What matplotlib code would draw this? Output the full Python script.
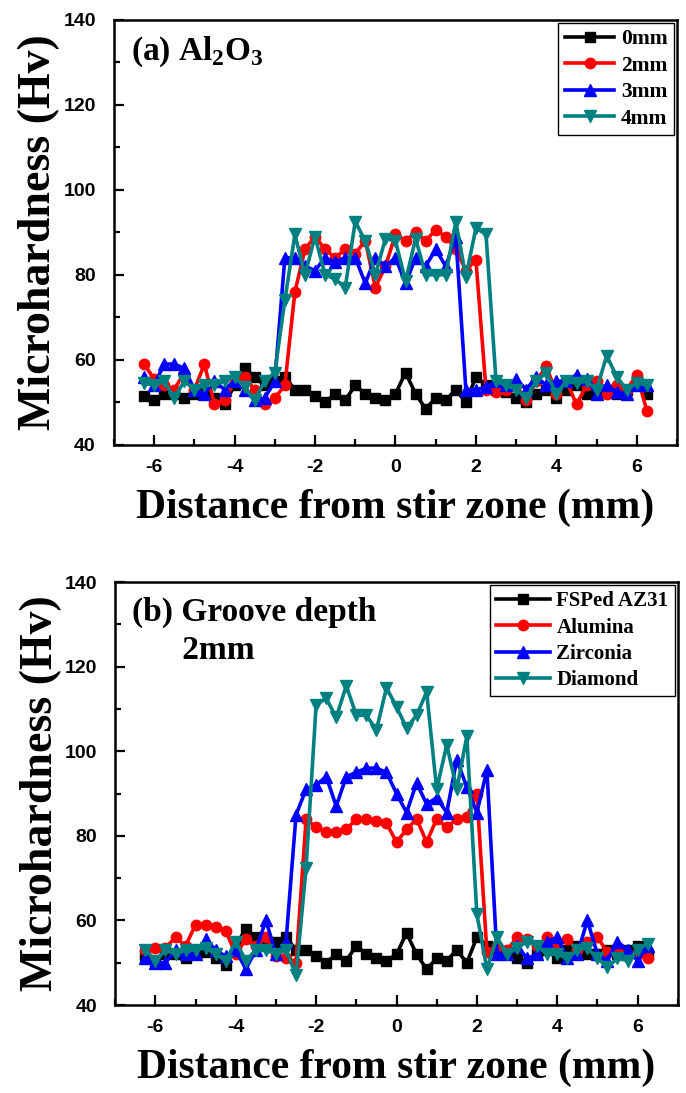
import numpy as np
import matplotlib
matplotlib.use("Agg")
import matplotlib.pyplot as plt
from matplotlib.ticker import MultipleLocator

plt.rcParams['font.family'] = ['Liberation Serif', 'DejaVu Serif']
plt.rcParams['mathtext.fontset'] = 'custom'
plt.rcParams['mathtext.rm'] = 'Liberation Serif:bold'
plt.rcParams['mathtext.bf'] = 'Liberation Serif:bold'
plt.rcParams['axes.unicode_minus'] = False

# distance from stir zone centre (mm), 0.25 mm step
distance = np.arange(-6.25, 6.26, 0.25)

# FSPed AZ31 baseline (same in both panels)
hv_base = [51.5, 50.5, 52, 52, 51, 52, 52.5, 51, 49.5, 54, 58, 56, 54, 55, 56, 53, 53,
           51.5, 50, 52, 50.5, 54, 52, 51, 50.5, 52, 57, 52, 48.5, 51, 50.5, 53, 50,
           56, 54, 53, 52.5, 51, 50, 52, 53, 51, 53, 54, 52, 52, 53, 52, 53, 54, 52]

# (a) Al2O3, groove depth
hv_2mm = [59, 55.5, 54, 53, 57, 53, 59, 49.5, 50.5, 55, 56, 53, 49.5, 51, 54, 76, 86,
          89, 86, 84, 86, 85, 88, 77, 82, 89.5, 88, 90, 88, 90.5, 89, 86, 81,
          83.5, 53, 52.5, 53, 54, 50.5, 55, 58.5, 52, 55, 49.5, 54, 55, 52, 54, 53, 56.5, 48]
hv_3mm = [56, 54, 59, 59, 58, 53, 52, 55, 53, 55, 53, 50.5, 51, 55, 84, 84, 82,
          81, 84, 83, 84, 84, 78, 84, 82, 84, 78, 84, 82, 86, 82, 89, 53,
          53, 53.5, 55, 54, 55.5, 53, 56, 54, 55, 55, 56.5, 55.5, 52, 54, 52.5, 52, 54, 54]
hv_4mm = [54.5, 54, 55, 51, 55, 53, 54, 54, 55, 56, 53.5, 50.5, 55, 57, 74, 89.5, 80,
          89, 80, 79, 77, 92.5, 88, 80, 88.5, 88, 78.5, 88.5, 80, 80, 80, 92.5, 79.5,
          91, 89.5, 55, 54, 53, 51, 55, 57, 52, 55, 54.5, 55, 53, 61, 56, 53, 54.5, 54]

# (b) groove depth 2mm, reinforcement particles
hv_alumina = [53, 53.5, 53.5, 56, 54, 59, 59, 58.5, 57.5, 52, 55.5, 54, 56, 51.5, 51, 50, 84,
              82, 81, 81, 81.5, 84, 84, 83.5, 83, 78.5, 81.5, 84, 78.5, 84, 82, 84, 84.5,
              90, 52.5, 54, 53, 56, 55.5, 54, 56, 54, 55.5, 53, 55, 56, 52.5, 53, 52, 52, 51]
hv_zirconia = [51, 50, 50, 53, 52, 52, 55.5, 53, 51.5, 53, 48.5, 53, 60, 52, 55, 85, 91,
               92, 94, 87, 94, 95, 96, 96, 95, 90, 85.5, 92.5, 87.5, 89, 85.5, 98, 91.5,
               85.5, 95.5, 52, 52, 54, 51, 52, 55, 56, 51, 52, 60, 52, 50.5, 55, 53, 50.5, 54]
hv_diamond = [53, 50.5, 53, 52, 53, 53, 53.5, 52, 50.5, 55, 50.5, 53, 53, 52, 53, 47, 72.5,
              111, 112.5, 108, 115.5, 108.5, 108.5, 105, 115, 110.5, 105.5, 108.5, 114, 91, 101.5, 91, 103.5,
              61.5, 48.5, 56, 52, 53.5, 55, 54, 52, 52, 51, 53, 53.5, 51, 49, 51, 50.5, 53, 54.5]

colors = ['black', '#ff0000', '#0000ff', '#008080']
markers = ['s', 'o', '^', 'v']
msizes = [7, 7.5, 8.5, 8.5]

panel_a = [('0mm', hv_base), ('2mm', hv_2mm), ('3mm', hv_3mm), ('4mm', hv_4mm)]
panel_b = [('FSPed AZ31', hv_base), ('Alumina', hv_alumina),
           ('Zirconia', hv_zirconia), ('Diamond', hv_diamond)]

fig = plt.figure(figsize=(6.86, 10.93), dpi=100)
ax1 = fig.add_axes([0.166, 0.593, 0.821, 0.389])
ax2 = fig.add_axes([0.168, 0.0805, 0.820, 0.387])


def draw(ax, series, note, note_xy, legsize, hlen):
    for (label, vals), c, m, ms in zip(series, colors, markers, msizes):
        ax.plot(distance, vals, color=c, marker=m, markersize=ms, lw=2.6,
                markeredgecolor=c, label=label)
    ax.set_xlim(-7, 7)
    ax.set_ylim(40, 140)
    ax.xaxis.set_major_locator(MultipleLocator(2))
    ax.xaxis.set_minor_locator(MultipleLocator(1))
    ax.yaxis.set_major_locator(MultipleLocator(20))
    ax.yaxis.set_minor_locator(MultipleLocator(10))
    ax.tick_params(which='both', direction='in', top=False, right=False, width=1.6)
    ax.tick_params(which='major', length=7, labelsize=14)
    ax.tick_params(axis='x', which='major', pad=10)
    ax.tick_params(axis='y', which='major', pad=13)
    ax.tick_params(which='minor', length=4)
    for lab in ax.get_xticklabels() + ax.get_yticklabels():
        lab.set_fontfamily('Liberation Sans')
        lab.set_fontweight('bold')
    for sp in ax.spines.values():
        sp.set_linewidth(1.8)
    ax.set_xlabel('Distance from stir zone (mm)', fontsize=30, fontweight='bold', labelpad=9)
    ax.set_ylabel('Microhardness (Hv)', fontsize=33, fontweight='bold', labelpad=2)
    ax.text(note_xy[0], note_xy[1], note, transform=ax.transAxes, fontsize=24,
            fontweight='bold', va='top', ha='left', linespacing=1.3)
    leg = ax.legend(loc='upper right', numpoints=1, handlelength=hlen,
                    fancybox=False, framealpha=1, edgecolor='black',
                    borderaxespad=0.15, labelspacing=0.3, handletextpad=0.3,
                    borderpad=0.3, prop={'weight': 'bold', 'size': legsize})
    leg.get_frame().set_linewidth(1.0)


draw(ax1, panel_a, r'(a) Al$_{\mathbf{2}}$O$_{\mathbf{3}}$', (0.03, 0.965), 15.5, 2.3)
draw(ax2, panel_b, '(b) Groove depth\n      2mm', (0.03, 0.965), 15, 2.6)

fig.savefig('out.png', dpi=100)
